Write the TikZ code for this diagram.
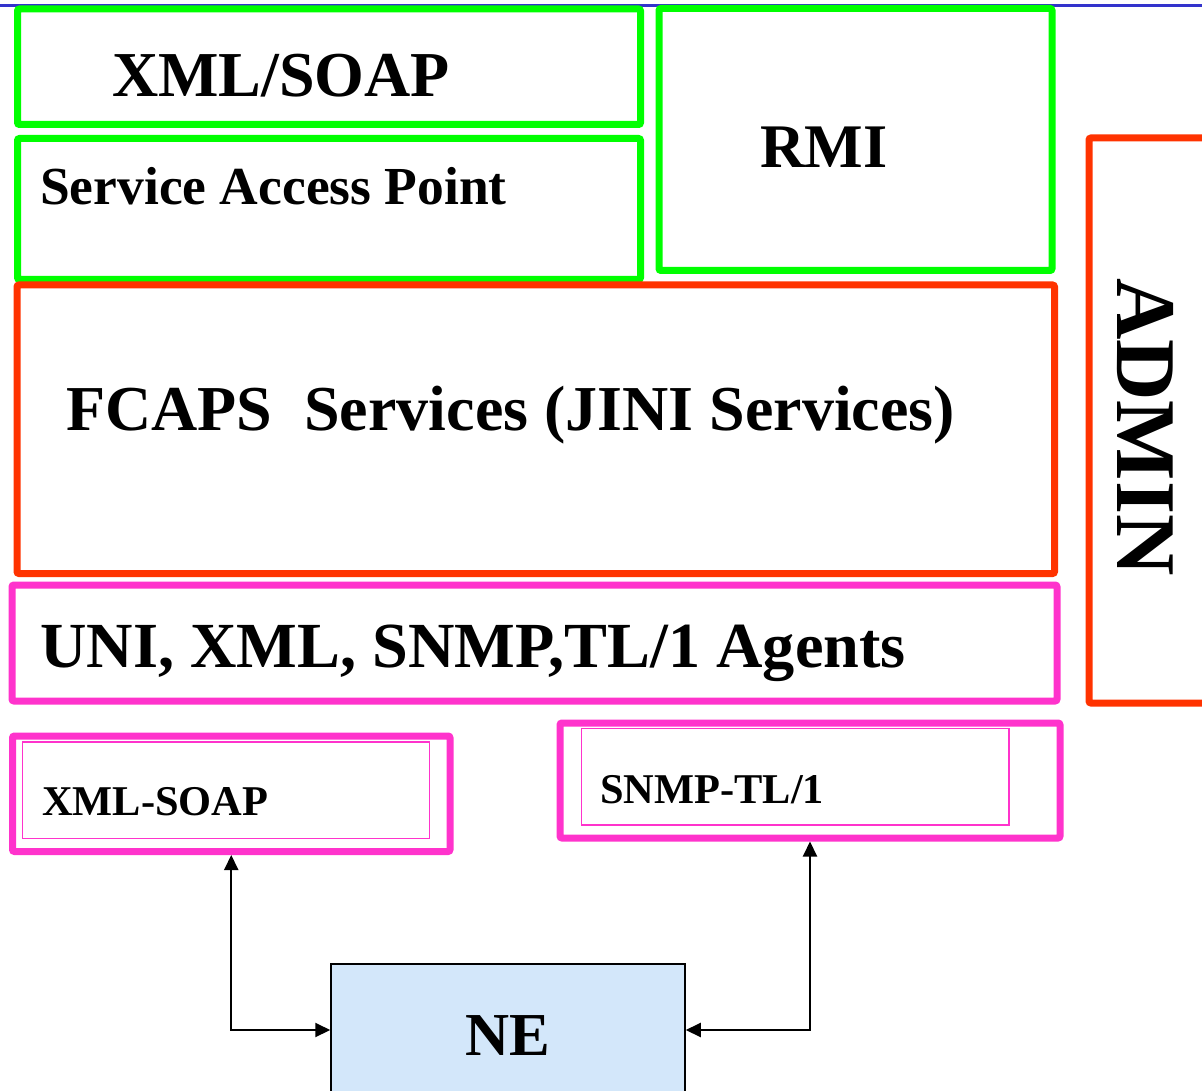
\documentclass[tikz,border=0pt]{standalone}
\usepackage{fontspec}
\setmainfont{Liberation Serif}
\usetikzlibrary{arrows.meta}

\definecolor{layergreen}{HTML}{00FF00}
\definecolor{layerred}{HTML}{FF3300}
\definecolor{layerpink}{HTML}{FF33CC}
\definecolor{rulerblue}{HTML}{3333CC}
\definecolor{nefill}{HTML}{D3E7FA}

\tikzset{
  layerbox/.style={draw, line width=7pt, rounded corners=2pt, inner sep=0pt,
                   outer sep=0pt, anchor=north west},
  greenbox/.style={layerbox, draw=layergreen},
  redbox/.style={layerbox, draw=layerred},
  pinkbox/.style={layerbox, draw=layerpink},
  innerbox/.style={draw=layerpink, line width=1.5pt, inner sep=0pt, outer sep=0pt, anchor=north west},
  nebox/.style={draw=black, line width=1.5pt, fill=nefill, inner sep=0pt, outer sep=0pt, anchor=north west},
  lbl/.style={inner sep=0pt, anchor=base west, font=\bfseries},
  link/.style={draw=black, line width=2pt, shorten <=3.5pt, shorten >=0.75pt,
               {Triangle[length=15pt,width=14pt]}-{Triangle[length=15pt,width=14pt]}},
}

\begin{document}
\begin{tikzpicture}[x=1pt, y=-1pt]
  \useasboundingbox (0,0) rectangle (1202,1091);
  \clip (0,0) rectangle (1202,1091);
  \fill[white] (0,0) rectangle (1202,1091);

  % horizontal rule along the top
  \draw[rulerblue, line width=2.5pt] (0,5.5) -- (1202,5.5);

  % upper layers
  \node[greenbox, minimum width=623pt, minimum height=115.5pt] (soapbox) at (17.5,9) {};
  \node[greenbox, minimum width=623pt, minimum height=141pt] (sapbox) at (17.5,138.5) {};
  \node[greenbox, minimum width=393pt, minimum height=262pt] (rmibox) at (659,8.5) {};
  \node[redbox, minimum width=1037.5pt, minimum height=288.5pt] (fcapsbox) at (17,285) {};
  \node[pinkbox, minimum width=1045pt, minimum height=116pt] (agentbox) at (12,585) {};
  \node[redbox, minimum width=140pt, minimum height=565pt] (adminbox) at (1089,138) {};

  % adapter boxes
  \node[pinkbox, minimum width=437.5pt, minimum height=115.5pt] (xsoapout) at (12.5,736) {};
  \node[innerbox, minimum width=407pt, minimum height=96.5pt] (xsoapin) at (22.3,742) {};
  \node[pinkbox, minimum width=500pt, minimum height=115pt] (snmpout) at (560,723) {};
  \node[innerbox, minimum width=427.6pt, minimum height=96.7pt] (snmpin) at (581.4,728.3) {};

  % network element
  \node[nebox, minimum width=354pt, minimum height=132pt] (ne) at (331,964) {};

  % labels
  \node[lbl, font=\fontsize{64}{64}\selectfont\bfseries] (tsoap) at (112,97) {XML/SOAP};
  \node[lbl, font=\fontsize{53.5}{53.5}\selectfont\bfseries] (tsap) at (40,205) {Service Access Point};
  \node[lbl, font=\fontsize{62}{62}\selectfont\bfseries] (trmi) at (760,168) {RMI};
  \node[lbl, font=\fontsize{64}{64}\selectfont\bfseries] (tfcaps) at (66,430) {FCAPS\ \ Services (JINI Services)};
  \node[lbl, font=\fontsize{64.3}{64.3}\selectfont\bfseries] (tagent) at (40,667) {UNI, XML, SNMP,TL/1 Agents};
  \node[lbl, font=\fontsize{85}{85}\selectfont\bfseries, rotate=-90] (tadmin) at (1117,278) {ADMIN};
  \node[lbl, font=\fontsize{42.4}{42.4}\selectfont\bfseries] (txsoap) at (42,815) {XML-SOAP};
  \node[lbl, font=\fontsize{42.4}{42.4}\selectfont\bfseries] (tsnmp) at (600,803) {SNMP-TL/1};
  \node[lbl, font=\fontsize{61}{61}\selectfont\bfseries] (tne) at (465,1055) {NE};

  % connections between the adapters and the network element
  \draw[link] (xsoapout.south) |- (ne.west);
  \draw[link] (snmpout.south) |- (ne.east);
\end{tikzpicture}
\end{document}
